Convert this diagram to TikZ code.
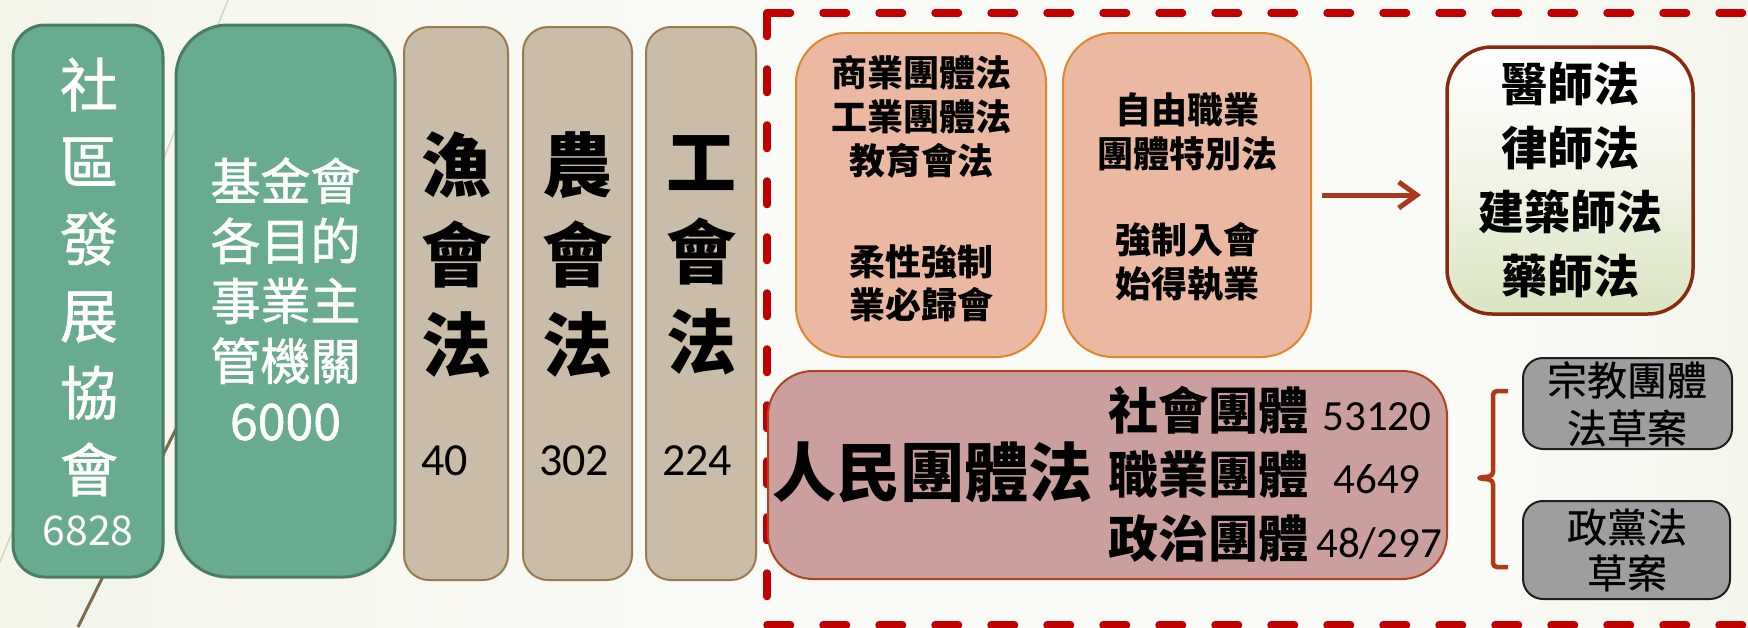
\documentclass[tikz,border=0pt]{standalone}
\usepackage{fontspec}
\setmainfont{Noto Sans CJK TC}
\newfontfamily\medfont[FakeBold=1.2]{Noto Sans CJK TC}
\newfontfamily\semfont[FakeBold=0.6]{Noto Sans CJK TC}
\newfontfamily\numfont{Carlito}
\usetikzlibrary{arrows.meta,calc}
\definecolor{bgL}{HTML}{EBEED8}
\definecolor{bgM}{HTML}{FAFAF6}
\definecolor{bgR}{HTML}{DFE7C7}
\definecolor{greenF}{HTML}{69AB8F}
\definecolor{greenB}{HTML}{4A7C66}
\definecolor{tanF}{HTML}{C9BCA9}
\definecolor{tanB}{HTML}{9A7B4C}
\definecolor{orF}{HTML}{EBB9A1}
\definecolor{orB}{HTML}{E0852B}
\definecolor{pinkF}{HTML}{CC9F9F}
\definecolor{pinkB}{HTML}{B0421E}
\definecolor{wbB}{HTML}{882A10}
\definecolor{wbBot}{HTML}{D9E4C0}
\definecolor{grayF}{HTML}{9E9E9E}
\definecolor{grayB}{HTML}{1E1E1E}
\definecolor{dashR}{HTML}{C00000}
\definecolor{arrowC}{HTML}{A8391C}
\definecolor{brackC}{HTML}{B03A16}
\definecolor{lineT}{HTML}{CFCFB8}
\definecolor{lineB}{HTML}{7A6A4E}
\pgfdeclarehorizontalshading{bgshade}{100bp}{color(0bp)=(bgL); color(45bp)=(bgM); color(68bp)=(bgM); color(100bp)=(bgR)}
\tikzset{
  box/.style={inner sep=0pt, outer sep=0pt},
  greenbox/.style={box, draw=greenB, fill=greenF, line width=3pt},
  tanbox/.style={box, draw=tanB, fill=tanF, line width=2pt, rounded corners=25pt},
  orbox/.style={box, draw=orB, fill=orF, line width=2pt, rounded corners=50pt},
  whitebox/.style={box, draw=wbB, top color=white, bottom color=wbBot, middle color=white!60!wbBot, line width=3.5pt, rounded corners=45pt},
  pinkbox/.style={box, draw=pinkB, fill=pinkF, line width=2pt, rounded corners=45pt},
  graybox/.style={box, draw=grayB, fill=grayF, line width=2pt, rounded corners=20pt},
  lbl/.style={inner sep=0pt, outer sep=0pt, align=center},
  redash/.style={draw=dashR, line width=7.5pt, line cap=round, dash pattern=on 23.5pt off 32.5pt},
  arr/.style={draw=arrowC, line width=5pt, -{Straight Barb[length=18pt,width=26pt]}},
  brack/.style={draw=brackC, line width=4.5pt, line join=round, rounded corners=4pt},
}
\begin{document}
\begin{tikzpicture}[x=1pt,y=-1pt]
\useasboundingbox (0,0) rectangle (1748,627);
\clip (0,0) rectangle (1748,627);
% background
\shade[shading=bgshade] (0,0) rectangle (1748,627);
\draw[lineT, line width=1.2pt] (228,0) -- (0,562);
\draw[lineB, line width=3pt] (215,350) -- (78,627);

% left boxes
\node[greenbox, rounded corners=32pt, minimum width=150pt, minimum height=552pt] (b1) at (88,301) {};
\node[greenbox, rounded corners=52pt, minimum width=219pt, minimum height=552pt] (b2) at (285.5,301) {};
\node[tanbox, minimum width=104pt, minimum height=553pt] (t1) at (456,303.5) {};
\node[tanbox, minimum width=109pt, minimum height=553pt] (t2) at (577.5,303.5) {};
\node[tanbox, minimum width=110pt, minimum height=553pt] (t3) at (701,303.5) {};

\node[lbl, text=white, font=\medfont\fontsize{58pt}{77pt}\selectfont] (b1txt) at (89,277) {社\\區\\發\\展\\協\\會};
\node[lbl, text=white, font=\fontsize{41pt}{41pt}\selectfont] (b1num) at (88,531) {6828};
\node[lbl, text=white, font=\medfont\fontsize{50pt}{60pt}\selectfont] (b2txt) at (285.5,299) {基金會\\各目的\\事業主\\管機關\\6000};

\node[lbl, font=\bfseries\fontsize{70pt}{90pt}\selectfont] (t1txt) at (456,255) {漁\\會\\法};
\node[lbl, font=\bfseries\fontsize{70pt}{90pt}\selectfont] (t2txt) at (577,255) {農\\會\\法};
\node[lbl, font=\bfseries\fontsize{70pt}{90pt}\selectfont] (t3txt) at (701,255) {工\\會\\法};
\node[lbl, anchor=base west, font=\numfont\fontsize{46pt}{46pt}\selectfont] (t1num) at (421,475) {40};
\node[lbl, anchor=base west, font=\numfont\fontsize{46pt}{46pt}\selectfont] (t2num) at (539,475) {302};
\node[lbl, anchor=base west, font=\numfont\fontsize{46pt}{46pt}\selectfont] (t3num) at (662,475) {224};

% dashed frame
\draw[redash] (767,13) -- (1800,13);
\draw[redash] (767,13) -- (767,625);
\draw[redash] (767,625) -- (1800,625);

% upper right boxes
\node[orbox, minimum width=250pt, minimum height=324pt] (o1) at (921,195) {};
\node[orbox, minimum width=248pt, minimum height=324pt] (o2) at (1187,195) {};
\node[whitebox, minimum width=246pt, minimum height=267pt] (w) at (1570,180.5) {};

\node[lbl, font=\bfseries\fontsize{36pt}{44pt}\selectfont] (o1a) at (921,117) {商業團體法\\工業團體法\\教育會法};
\node[lbl, font=\bfseries\fontsize{36pt}{43pt}\selectfont] (o1b) at (921,283) {柔性強制\\業必歸會};
\node[lbl, font=\bfseries\fontsize{36pt}{44pt}\selectfont] (o2a) at (1187,131.5) {自由職業\\團體特別法};
\node[lbl, font=\bfseries\fontsize{36pt}{44pt}\selectfont] (o2b) at (1187,262.5) {強制入會\\始得執業};
\node[lbl, font=\bfseries\fontsize{46pt}{64pt}\selectfont] (wtxt) at (1570,180) {醫師法\\律師法\\建築師法\\藥師法};

\draw[arr, shorten <=11pt, shorten >=26pt] (o2.east) -- (o2.east -| w.west);

% lower boxes
\node[pinkbox, minimum width=679pt, minimum height=208pt] (p) at (1107.5,475) {};
\node[lbl, font=\bfseries\fontsize{64pt}{64pt}\selectfont] (ptitle) at (932,472) {人民團體法};
\node[lbl, anchor=base west, font=\bfseries\fontsize{50pt}{50pt}\selectfont] (pr1) at (1108,429) {社會團體};
\node[lbl, anchor=base west, font=\bfseries\fontsize{50pt}{50pt}\selectfont] (pr2) at (1108,493) {職業團體};
\node[lbl, anchor=base west, font=\bfseries\fontsize{50pt}{50pt}\selectfont] (pr3) at (1108,557) {政治團體};
\node[lbl, anchor=base, font=\numfont\fontsize{43pt}{43pt}\selectfont] (pn1) at (1377,430) {53120};
\node[lbl, anchor=base, font=\numfont\fontsize{43pt}{43pt}\selectfont] (pn2) at (1377,493) {4649};
\node[lbl, anchor=base, font=\numfont\fontsize{43pt}{43pt}\selectfont] (pn3) at (1379,557) {48/297};

\node[graybox, minimum width=209pt, minimum height=91pt] (g1) at (1627.5,403.5) {};
\node[graybox, minimum width=207pt, minimum height=98pt] (g2) at (1626.5,550) {};
\node[lbl, font=\semfont\fontsize{40pt}{48pt}\selectfont] (g1txt) at (1627,404) {宗教團體\\法草案};
\node[lbl, font=\semfont\fontsize{40pt}{46pt}\selectfont] (g2txt) at (1627,550) {政黨法\\草案};

% bracket
\draw[brack] (1508,391) -- (1493,391) -- (1493,476) -- (1477,478) -- (1493,480) -- (1493,567) -- (1508,567);
\end{tikzpicture}
\end{document}
